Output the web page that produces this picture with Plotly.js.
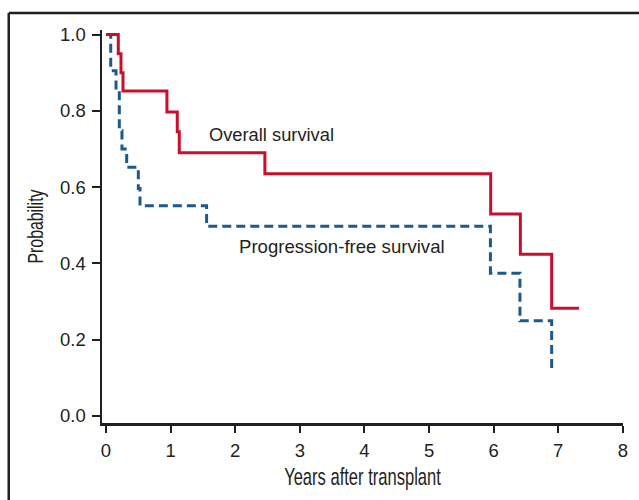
<!DOCTYPE html>
<html>
<head>
<meta charset="utf-8">
<script src="https://cdn.plot.ly/plotly-3.0.1.min.js"></script>
<style>
html,body{margin:0;padding:0;background:#fff;}
#chart{width:639px;height:500px;}
</style>
</head>
<body>
<div id="chart"></div>
<script>
// Overall survival (Kaplan-Meier steps)
const osYears = [0, 0.19, 0.232, 0.263, 0.943, 1.103, 1.134, 2.459, 5.954, 6.413, 6.898, 7.32];
const osProb  = [1.0, 0.95, 0.90, 0.852, 0.797, 0.745, 0.690, 0.635, 0.529, 0.424, 0.282, 0.282];

// Progression-free survival
const pfsYears = [0, 0.073, 0.155, 0.206, 0.247, 0.32, 0.50, 0.526, 1.557, 5.95, 6.407, 6.898, 6.96];
const pfsProb  = [1.0, 0.905, 0.855, 0.748, 0.700, 0.652, 0.596, 0.551, 0.497, 0.374, 0.249, 0.124, 0.124];

const xTicks = [0, 1, 2, 3, 4, 5, 6, 7, 8];
const yTicks = [0, 0.2, 0.4, 0.6, 0.8, 1.0];
const yTickText = ['0.0', '0.2', '0.4', '0.6', '0.8', '1.0'];

const labels = {
  os: 'Overall survival',
  pfs: 'Progression-free survival',
  xTitle: 'Years after transplant',
  yTitle: 'Probability'
};

const RED = '#c8102e';
const BLUE = '#1b5a8c';
const INK = '#231f20';
const FONT = 'Liberation Sans, Arial, Helvetica, sans-serif';

const traces = [
  {
    x: pfsYears, y: pfsProb, type: 'scatter', mode: 'lines',
    line: {shape: 'hv', color: BLUE, width: 3, dash: '9px,5px'},
    hoverinfo: 'skip', showlegend: false
  },
  {
    x: osYears, y: osProb, type: 'scatter', mode: 'lines',
    line: {shape: 'hv', color: RED, width: 3},
    hoverinfo: 'skip', showlegend: false
  }
];

const layout = {
  width: 639, height: 500,
  margin: {l: 102, r: 16, t: 30, b: 77},
  paper_bgcolor: '#fff', plot_bgcolor: '#fff',
  showlegend: false,
  font: {family: FONT, color: INK, size: 17},
  xaxis: {
    range: [-0.062, 8.002], tickvals: xTicks, ticktext: xTicks.map(String),
    showgrid: false, zeroline: false, showline: true, linecolor: INK, linewidth: 2.5,
    ticks: 'outside', ticklen: 7, tickwidth: 2, tickcolor: INK,
    ticklabelstandoff: 2,
    tickfont: {family: FONT, size: 18.5, color: INK},
    title: {text: labels.xTitle, font: {family: FONT, size: 24, color: INK}, standoff: 9}
  },
  yaxis: {
    range: [-0.019, 1.012], tickvals: yTicks, ticktext: yTickText,
    showgrid: false, zeroline: false, showline: true, linecolor: INK, linewidth: 2.5,
    ticks: 'outside', ticklen: 8, tickwidth: 2, tickcolor: INK,
    ticklabelstandoff: 2,
    tickfont: {family: FONT, size: 18.5, color: INK},
    title: {text: labels.yTitle, font: {family: FONT, size: 22, color: INK}, standoff: 11}
  },
  annotations: [
    {x: 1.57, y: 0.737, xref: 'x', yref: 'y', text: labels.os, showarrow: false,
     xanchor: 'left', yanchor: 'middle', font: {family: FONT, size: 18.3, color: INK}},
    {x: 2.03, y: 0.445, xref: 'x', yref: 'y', text: labels.pfs, showarrow: false,
     xanchor: 'left', yanchor: 'middle', font: {family: FONT, size: 18.6, color: INK}}
  ],
  shapes: [
    {type: 'line', xref: 'paper', yref: 'paper', x0: -0.179, x1: 1.2, y0: 1.0433, y1: 1.0433,
     line: {color: INK, width: 2.5}},
    {type: 'line', xref: 'paper', yref: 'paper', x0: -0.179, x1: -0.179, y0: 1.0433, y1: -0.3,
     line: {color: INK, width: 2.5}}
  ]
};

function condense(el, k) {
  if (!el) return;
  const x = +el.getAttribute('x'), y = +el.getAttribute('y');
  const base = el.getAttribute('transform') || '';
  el.setAttribute('transform', base + ' translate(' + x + ',' + y + ') scale(' + k + ',1) translate(' + (-x) + ',' + (-y) + ')');
}

Plotly.newPlot('chart', traces, layout, {staticPlot: true, displayModeBar: false}).then(function () {
  condense(document.querySelector('.xtitle'), 0.69);
  condense(document.querySelector('.ytitle'), 0.72);
});
</script>
</body>
</html>
